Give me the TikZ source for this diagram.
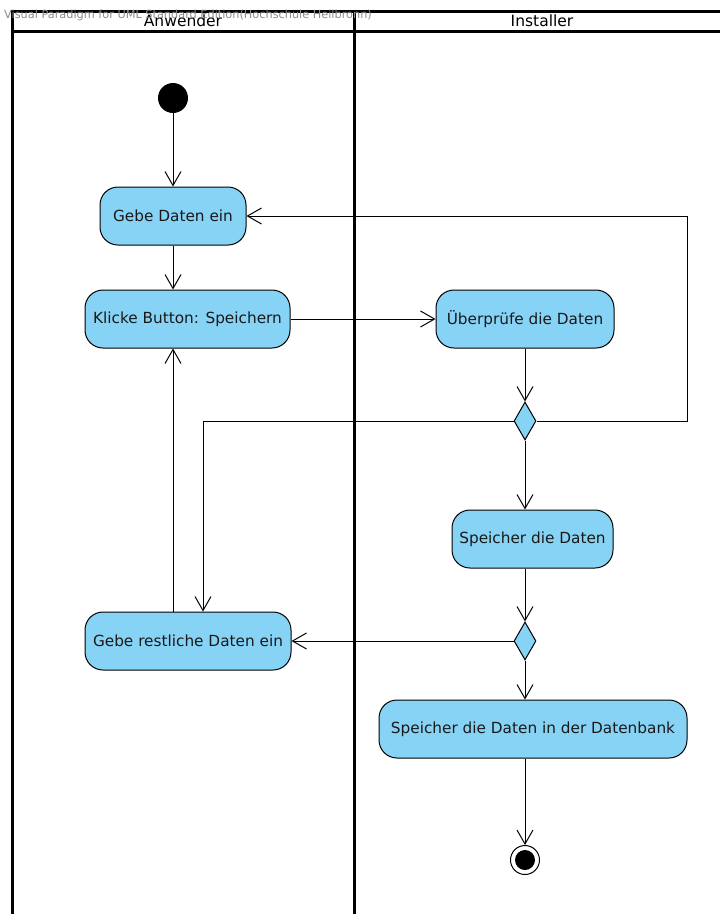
\documentclass[tikz,border=0pt]{standalone}
\usepackage{fontspec}
\setmainfont{DejaVu Sans}
\usetikzlibrary{arrows.meta,shapes.geometric}
\definecolor{actfill}{RGB}{135,211,245}
\definecolor{marktext}{RGB}{140,140,140}
\begin{document}
\begin{tikzpicture}[x=1pt,y=-1pt,
  lane/.style={line width=3pt},
  action/.style={draw, line width=1pt, fill=actfill, rounded corners=18pt,
    minimum height=58pt, inner sep=0pt, font=\fontsize{15.3}{17}\selectfont, text=black!90},
  decision/.style={draw, line width=1pt, fill=actfill, diamond, inner sep=0pt,
    minimum width=22pt, minimum height=38pt},
  flow/.style={line width=1pt, -{Straight Barb[length=14pt,width=16pt,line width=1pt]}},
  plain/.style={line width=1pt}]
\useasboundingbox (0,0) rectangle (720,914);

% swimlanes
\draw[lane] (12,914) -- (12,11) -- (720,11);
\draw[lane] (12,31) -- (720,31);
\draw[lane] (354,11) -- (354,914);
\node[font=\fontsize{15.5}{17}\selectfont] (laneA) at (183,21) {Anwender};
\node[font=\fontsize{15.5}{17}\selectfont] (laneB) at (542,21) {Installer};
\node[anchor=west, inner sep=0pt, text=marktext, font=\fontsize{11.3}{13}\selectfont] (mark) at (4,15) {Visual Paradigm for UML Standard Edition(Hochschule Heilbronn)};

% nodes
\node[circle, fill=black, minimum size=30pt, inner sep=0pt] (start) at (173,98) {};
\node[action, minimum width=146pt] (gebe) at (173,216) {Gebe Daten ein};
\node[action, minimum width=205pt] (klick) at (187.5,319) {Klicke Button: Speichern};
\node[action, minimum width=178pt] (pruef) at (525,319) {Überprüfe die Daten};
\node[decision] (d1) at (525,421) {};
\node[action, minimum width=161pt] (speich) at (532.5,539) {Speicher die Daten};
\node[decision] (d2) at (525,641) {};
\node[action, minimum width=206pt] (rest) at (188,641) {Gebe restliche Daten ein};
\node[action, minimum width=308pt] (db) at (533,729) {Speicher die Daten in der Datenbank};
\node[circle, draw, line width=1pt, minimum size=29pt, inner sep=0pt] (final) at (525,860) {};
\fill (final.center) circle (10);

% connectors
\coordinate (r1) at (687,421);
\coordinate (r2) at (687,216);
\coordinate (l1) at (203,421);
\draw[flow] (start) -- (gebe);
\draw[flow] (gebe) -- (klick.north -| gebe);
\draw[flow] (klick) -- (pruef);
\draw[flow] (pruef.south -| d1) -- (d1.north);
\draw[flow] (d1.east) -- (r1) -- (r2) -- (gebe.east);
\draw[flow] (d1.west) -- (l1) -- (l1 |- rest.north);
\draw[flow] (d1.south) -- (d1.south |- speich.north);
\draw[flow] (speich.south -| d2) -- (d2.north);
\draw[flow] (d2.west) -- (rest.east);
\draw[flow] (d2.south) -- (d2.south |- db.north);
\draw[flow] (rest.north -| gebe) -- (klick.south -| gebe);
\draw[flow] (db.south -| final) -- (final.north);
\end{tikzpicture}
\end{document}
